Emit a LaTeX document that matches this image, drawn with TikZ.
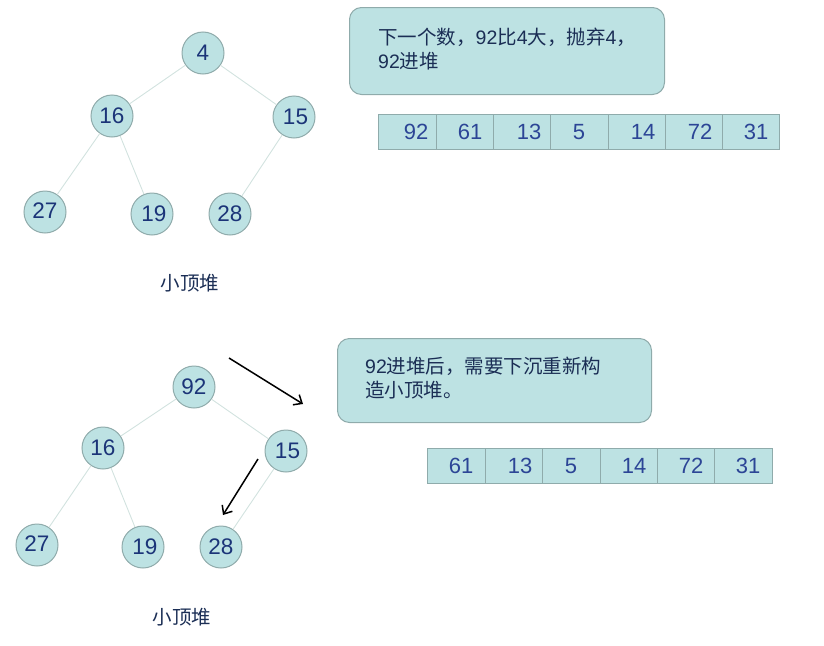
\documentclass[tikz,border=0pt]{standalone}
\usepackage{fontspec}
\setmainfont{Liberation Sans}
\newfontfamily\cjk{Noto Sans CJK SC}
\usetikzlibrary{arrows.meta}
\definecolor{tealfill}{HTML}{BDE2E3}
\definecolor{tealborder}{HTML}{8FABAB}
\definecolor{edgecol}{HTML}{D2E2DF}
\definecolor{numcol}{HTML}{1B3478}
\definecolor{arrcol}{HTML}{2C4596}
\definecolor{boxtext}{HTML}{1B2E55}
\begin{document}
\begin{tikzpicture}[x=1pt,y=-1pt,
  heapnode/.style={circle,draw=tealborder,fill=tealfill,line width=1pt,minimum size=42pt,inner sep=0pt,text=numcol,font=\fontsize{22.5}{22.5}\selectfont},
  heapedge/.style={draw=edgecol,line width=0.9pt},
  cellbox/.style={draw=tealborder,fill=tealfill,line width=0.8pt,minimum width=57.3pt,minimum height=35pt,inner sep=0pt,anchor=north west},
  celltext/.style={text=arrcol,font=\fontsize{22}{22}\selectfont,inner sep=0pt},
  notebox/.style={draw=tealborder,fill=tealfill,line width=1pt,rounded corners=12pt,anchor=north west,inner sep=0pt},
  notetext/.style={text=boxtext,font=\fontsize{19.5}{23.5}\selectfont,align=left,anchor=north west,inner sep=0pt},
  caption/.style={text=boxtext,font=\cjk\fontsize{19.5}{19.5}\selectfont},
  movearrow/.style={draw=black,line width=1.5pt,-{Straight Barb[length=7pt,width=12pt,line width=1.5pt]}}
]
\useasboundingbox (0,0) rectangle (824,645);

% ---------- top tree ----------
\node[heapnode] (t4)  at (203,53)  {4};
\node[heapnode] (t16) at (112,116) {16};
\node[heapnode] (t15) at (294,117) {\hspace*{3pt}15};
\node[heapnode] (t27) at (45,212)  {\raisebox{3pt}{27}};
\node[heapnode] (t19) at (152,214) {\hspace*{4pt}19};
\node[heapnode] (t28) at (230,214) {28};
\draw[heapedge] (t4) -- (t16);
\draw[heapedge] (t4) -- (t15);
\draw[heapedge] (t16) -- (t27);
\draw[heapedge] (t16) -- (t19);
\draw[heapedge] (t15) -- (t28);
\node[caption] (tcap) at (190,283) {小顶堆};

% ---------- top note ----------
\node[notebox,minimum width=315pt,minimum height=87pt] (tnote) at (349,7) {};
\node[notetext] (tnotetext) at (378,28) {{\cjk 下一个数，}92{\cjk 比}4{\cjk 大，抛弃}4{\cjk ，}\\92{\cjk 进堆}};

% ---------- top array ----------
\foreach \i/\v/\tx in {0/92/416,1/61/470,2/13/529,3/5/579,4/14/643,5/72/700,6/31/756}{
  \node[cellbox] (tc\i) at ({378.3+57.3*\i},114) {};
  \node[celltext] (tv\i) at (\tx,132) {\v};
}

% ---------- bottom tree ----------
\node[heapnode] (b92) at (194,387) {92};
\node[heapnode] (b16) at (103,448) {16};
\node[heapnode] (b15) at (286,451) {\hspace*{3pt}15};
\node[heapnode] (b27) at (37,545)  {\raisebox{3pt}{27}};
\node[heapnode] (b19) at (143,547) {\hspace*{4pt}19};
\node[heapnode] (b28) at (221,547) {28};
\draw[heapedge] (b92) -- (b16);
\draw[heapedge] (b92) -- (b15);
\draw[heapedge] (b16) -- (b27);
\draw[heapedge] (b16) -- (b19);
\draw[heapedge] (b15) -- (b28);
\node[caption] (bcap) at (182,617) {小顶堆};

% ---------- arrows ----------
\coordinate (a1s) at (229,358);
\coordinate (a1e) at (303,404);
\coordinate (a2s) at (258,459);
\coordinate (a2e) at (223,515);
\draw[movearrow] (a1s) -- (a1e);
\draw[movearrow] (a2s) -- (a2e);

% ---------- bottom note ----------
\node[notebox,minimum width=314pt,minimum height=84pt] (bnote) at (337,338) {};
\node[notetext] (bnotetext) at (365,357) {92{\cjk 进堆后，需要下沉重新构}\\{\cjk 造小顶堆。}};

% ---------- bottom array ----------
\foreach \i/\v/\tx in {0/61/461,1/13/520,2/5/571,3/14/634,4/72/691,5/31/748}{
  \node[cellbox] (bc\i) at ({427.4+57.4*\i},448) {};
  \node[celltext] (bv\i) at (\tx,466) {\v};
}
\end{tikzpicture}
\end{document}
